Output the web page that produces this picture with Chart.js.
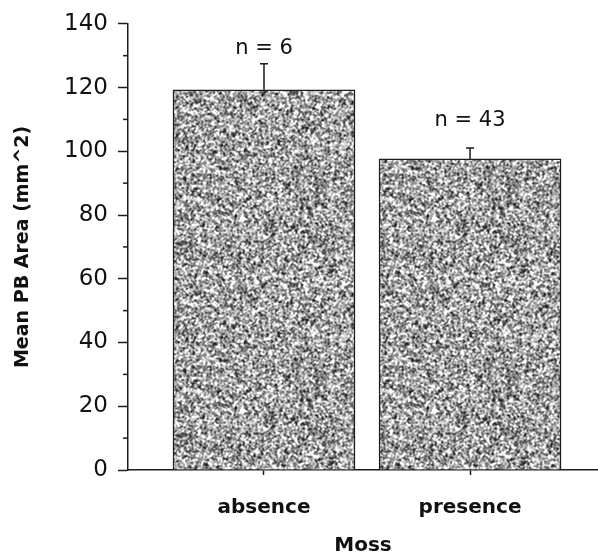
<!DOCTYPE html>
<html>
<head>
<meta charset="utf-8">
<script src="https://cdn.jsdelivr.net/npm/chart.js@4"></script>
<style>
  html, body { margin: 0; padding: 0; background: #fff; }
  #wrap { width: 598px; height: 559px; }
</style>
</head>
<body>
<div id="wrap"><canvas id="moss-Chart" width="598" height="559"></canvas></div>
<script>
// values
const categories = ["absence", "presence"];
const meanArea = [119.3, 97.6];
const errUpper = [127.5, 101.0];
const nLabels = ["n = 6", "n = 43"];
const yTicks = [0, 20, 40, 60, 80, 100, 120, 140];
const yMinorTicks = [10, 30, 50, 70, 90, 110, 130];

const ink = "#1c1c1c";

// grey stipple fill like the scanned print (texture only, seeded)
function makeStipple() {
  const N = 192;
  const c = document.createElement("canvas");
  c.width = c.height = N;
  const g = c.getContext("2d");
  let s = 0x9e3779b9;
  const rnd = () => {
    s |= 0; s = (s + 0x6d2b79f5) | 0;
    let t = Math.imul(s ^ (s >>> 15), 1 | s);
    t = (t + Math.imul(t ^ (t >>> 7), 61 | t)) ^ t;
    return ((t ^ (t >>> 14)) >>> 0) / 4294967296;
  };
  const raw = new Float32Array(N * N);
  for (let i = 0; i < raw.length; i++) raw[i] = rnd();
  const img = g.createImageData(N, N);
  const w = [1, 2, 1];
  for (let y = 0; y < N; y++) {
    for (let x = 0; x < N; x++) {
      let sum = 0;
      for (let dy = -1; dy <= 1; dy++)
        for (let dx = -1; dx <= 1; dx++)
          sum += w[dy + 1] * w[dx + 1] * raw[((y + dy + N) % N) * N + ((x + dx + N) % N)];
      const b = sum / 16;
      let v = 165 + (b - 0.5) * 480;
      v = Math.max(35, Math.min(255, v));
      const k = (y * N + x) * 4;
      img.data[k] = img.data[k + 1] = img.data[k + 2] = v;
      img.data[k + 3] = 255;
    }
  }
  g.putImageData(img, 0, 0);
  return g.createPattern(c, "repeat");
}

const errorBars = {
  id: "errorBars",
  afterDatasetsDraw(chart) {
    const { ctx, scales } = chart;
    const meta = chart.getDatasetMeta(0);
    const labelGap = [15, 28];
    ctx.save();
    ctx.strokeStyle = ink;
    ctx.lineWidth = 1.5;
    meta.data.forEach((bar, i) => {
      const top = scales.y.getPixelForValue(errUpper[i]);
      ctx.beginPath();
      ctx.moveTo(bar.x, bar.y);
      ctx.lineTo(bar.x, top);
      ctx.moveTo(bar.x - 4, top);
      ctx.lineTo(bar.x + 4, top);
      ctx.stroke();
      ctx.fillStyle = "#111";
      ctx.font = "21px 'DejaVu Sans'";
      ctx.textAlign = "center";
      ctx.textBaseline = "middle";
      ctx.fillText(nLabels[i], bar.x, top - labelGap[i]);
    });
    // short minor ticks on the y axis
    const x0 = scales.y.right;
    yMinorTicks.forEach((v) => {
      const y = scales.y.getPixelForValue(v);
      ctx.beginPath();
      ctx.moveTo(x0 - 5, y);
      ctx.lineTo(x0, y);
      ctx.stroke();
    });
    ctx.restore();
  },
};

const ctx = document.getElementById("moss-Chart");
const chart = new Chart(ctx, {
  type: "bar",
  data: {
    datasets: [
      {
        data: meanArea.map((v, i) => ({ x: i, y: v })),
        backgroundColor: makeStipple(),
        borderColor: ink,
        borderWidth: 1.5,
        borderSkipped: "bottom",
        barThickness: 182,
      },
    ],
  },
  options: {
    responsive: false,
    animation: false,
    layout: { padding: { top: 17, left: 0, right: 0, bottom: 0 } },
    plugins: {
      legend: { display: false },
      tooltip: { enabled: false },
    },
    scales: {
      x: {
        type: "linear",
        offset: false,
        min: -0.66,
        max: 1.621,
        afterBuildTicks: (scale) => {
          scale.ticks = categories.map((c, i) => ({ value: i }));
        },
        afterFit: (scale) => {
          scale.height = 89;
        },
        ticks: {
          callback: (v) => categories[v],
          color: "#111",
          font: { family: "DejaVu Sans", size: 20, weight: "bold" },
          padding: 21,
          maxRotation: 0,
        },
        grid: {
          offset: false,
          drawOnChartArea: false,
          tickLength: 5,
          tickColor: ink,
          tickWidth: 1.5,
        },
        border: { color: ink, width: 1.5 },
        title: {
          display: true,
          text: "Moss",
          color: "#111",
          font: { family: "DejaVu Sans", size: 20, weight: "bold" },
          padding: { top: 0, bottom: 1 },
        },
      },
      y: {
        min: 0,
        max: 140,
        afterBuildTicks: (scale) => {
          scale.ticks = yTicks.map((v) => ({ value: v }));
        },
        afterFit: (scale) => {
          scale.width = 128;
        },
        ticks: {
          color: "#111",
          font: { family: "DejaVu Sans", size: 23 },
          padding: 10,
        },
        grid: {
          drawOnChartArea: false,
          tickLength: 10,
          tickColor: ink,
          tickWidth: 1.5,
        },
        border: { color: ink, width: 1.5 },
        title: {
          display: true,
          text: "Mean PB Area (mm^2)",
          color: "#111",
          font: { family: "DejaVu Sans", size: 19, weight: "bold" },
          padding: { top: 12, bottom: 0 },
        },
      },
    },
  },
  plugins: [errorBars],
});
</script>
</body>
</html>
